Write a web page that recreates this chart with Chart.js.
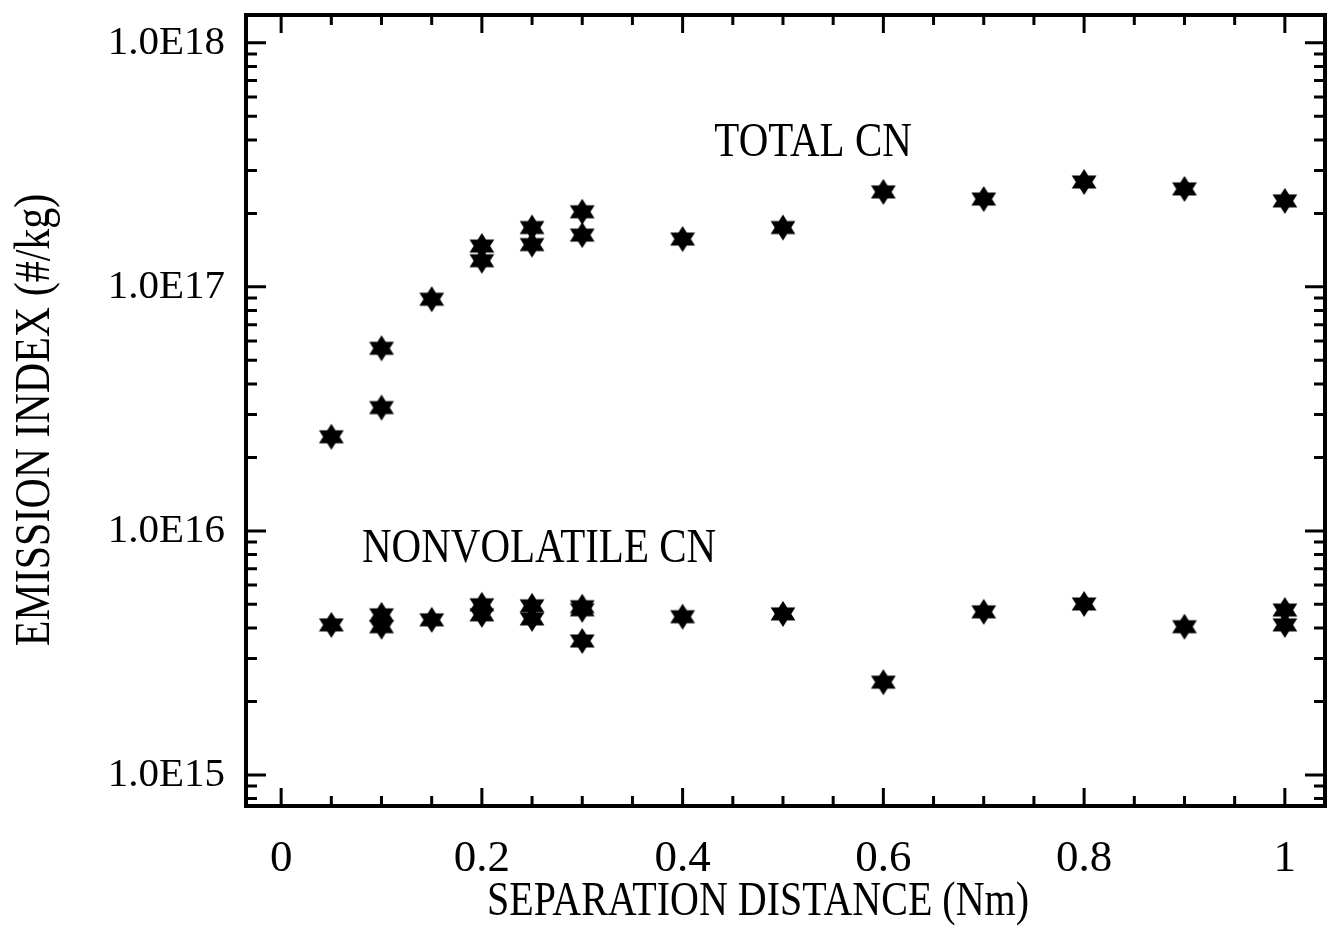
<!DOCTYPE html>
<html>
<head>
<meta charset="utf-8">
<title>Emission index vs separation distance</title>
<script src="https://cdn.jsdelivr.net/npm/chart.js@4/dist/chart.umd.min.js"></script>
<style>
  html, body { margin: 0; padding: 0; background: #fff; }
  #wrap { width: 1328px; height: 930px; }
</style>
</head>
<body>
<div id="wrap"><canvas id="emissionChart" width="1328" height="930"></canvas></div>
<script>
// Total CN
var totalX = [0.05, 0.1, 0.1, 0.15, 0.2, 0.2, 0.25, 0.25, 0.3, 0.3, 0.4, 0.5, 0.6, 0.7, 0.8, 0.9, 1.0];
var totalY = [2.43e16, 5.6e16, 3.2e16, 8.9e16, 1.47e17, 1.28e17, 1.75e17, 1.49e17, 2.03e17, 1.63e17,
              1.57e17, 1.75e17, 2.45e17, 2.29e17, 2.69e17, 2.52e17, 2.25e17];

// Nonvolatile CN
var nonvolX = [0.05, 0.1, 0.1, 0.15, 0.2, 0.2, 0.25, 0.25, 0.3, 0.3, 0.3, 0.4, 0.5, 0.6, 0.7, 0.8, 0.9, 1.0, 1.0];
var nonvolY = [4.12e15, 4.53e15, 4.05e15, 4.32e15, 4.98e15, 4.53e15, 4.93e15, 4.36e15, 4.89e15, 4.75e15, 3.54e15,
               4.45e15, 4.57e15, 2.40e15, 4.66e15, 5.02e15, 4.05e15, 4.74e15, 4.12e15];

var xTickValues = [0, 0.2, 0.4, 0.6, 0.8, 1];
var xTickLabels = ['0', '0.2', '0.4', '0.6', '0.8', '1'];
var yTickValues = [1e15, 1e16, 1e17, 1e18];
var yTickLabels = ['1.0E15', '1.0E16', '1.0E17', '1.0E18'];

var serif = '"Liberation Serif", "Times New Roman", serif';

// six pointed star used as the marker (a little wider than a true hexagram, like the scan)
function makeStar(r) {
    var c = document.createElement('canvas');
    var s = Math.ceil(r * 2 + 4);
    c.width = s; c.height = s;
    var g = c.getContext('2d');
    var inner = r / Math.sqrt(3);
    g.beginPath();
    for (var i = 0; i < 12; i++) {
        var ang = -Math.PI / 2 + i * Math.PI / 6;
        var rr = (i % 2 === 0) ? r : inner;
        var px = s / 2 + 1.1 * rr * Math.cos(ang), py = s / 2 + rr * Math.sin(ang);
        if (i === 0) g.moveTo(px, py); else g.lineTo(px, py);
    }
    g.closePath();
    g.fillStyle = '#000';
    g.fill();
    return c;
}

// text a bit taller than the font, like the scanned original
function tallText(ctx, txt, cx, cy, rot) {
    ctx.save();
    ctx.translate(cx, cy);
    if (rot) ctx.rotate(rot);
    ctx.scale(1, 1.2);
    ctx.fillText(txt, 0, 0);
    ctx.restore();
}

// frame, inward ticks on all four sides, labels inside the plot and axis titles
var framePlugin = {
    id: 'framePlugin',
    afterDraw: function (chart) {
        var ctx = chart.ctx, a = chart.chartArea, x = chart.scales.x, y = chart.scales.y;
        ctx.save();
        ctx.strokeStyle = '#000';
        ctx.lineWidth = 3;
        ctx.beginPath();
        for (var i = 0; i <= 20; i++) {
            var v = i * 0.05;
            var px = x.getPixelForValue(v);
            var len = (i % 4 === 0) ? 18 : 10;
            ctx.moveTo(px, a.bottom); ctx.lineTo(px, a.bottom - len);
            ctx.moveTo(px, a.top); ctx.lineTo(px, a.top + len);
        }
        for (var d = 14; d <= 18; d++) {
            for (var k = 1; k <= 9; k++) {
                var val = k * Math.pow(10, d);
                if (val < y.min || val > y.max) continue;
                var py = y.getPixelForValue(val);
                var l = (k === 1) ? 20 : 11;
                ctx.moveTo(a.left, py); ctx.lineTo(a.left + l, py);
                ctx.moveTo(a.right, py); ctx.lineTo(a.right - l, py);
            }
        }
        ctx.stroke();
        ctx.lineWidth = 4;
        ctx.strokeRect(a.left, a.top, a.right - a.left, a.bottom - a.top);

        ctx.fillStyle = '#000';
        ctx.font = '41px ' + serif;
        ctx.textAlign = 'center';
        ctx.textBaseline = 'middle';
        tallText(ctx, 'TOTAL CN', x.getPixelForValue(0.53), y.getPixelForValue(3.9e17));
        tallText(ctx, 'NONVOLATILE CN', x.getPixelForValue(0.257), y.getPixelForValue(8.4e15));

        ctx.font = '40px ' + serif;
        tallText(ctx, 'SEPARATION DISTANCE (Nm)', 758, 902);
        ctx.font = '42px ' + serif;
        tallText(ctx, 'EMISSION INDEX (#/kg)', 36, 420, -Math.PI / 2);
        ctx.restore();
    }
};

document.addEventListener('DOMContentLoaded', function () {
    var star = makeStar(13);
    var ctxEm = document.getElementById('emissionChart').getContext('2d');
    var emissionChart = new Chart(ctxEm, {
        type: 'scatter',
        data: {
            datasets: [{
                label: 'TOTAL CN',
                data: totalX.map(function (v, i) { return { x: v, y: totalY[i] }; }),
                pointStyle: star,
                pointRadius: 13,
                backgroundColor: '#000',
                borderColor: '#000'
            }, {
                label: 'NONVOLATILE CN',
                data: nonvolX.map(function (v, i) { return { x: v, y: nonvolY[i] }; }),
                pointStyle: star,
                pointRadius: 13,
                backgroundColor: '#000',
                borderColor: '#000'
            }]
        },
        options: {
            responsive: false,
            devicePixelRatio: 1,
            animation: false,
            layout: { autoPadding: false, padding: { top: 15, right: 3, left: 0, bottom: 0 } },
            plugins: {
                legend: { display: false },
                tooltip: { enabled: false }
            },
            scales: {
                x: {
                    type: 'linear',
                    min: -0.035,
                    max: 1.04,
                    grid: { display: false },
                    border: { display: false },
                    afterFit: function (s) {
                        s.height = 124;
                        s.paddingLeft = 0; s.paddingRight = 0;
                    },
                    afterBuildTicks: function (s) {
                        s.ticks = xTickValues.map(function (v) { return { value: v }; });
                    },
                    ticks: {
                        padding: 18,
                        color: '#000',
                        font: { family: serif, size: 45 },
                        maxRotation: 0,
                        autoSkip: false,
                        callback: function (v) { return xTickLabels[xTickValues.indexOf(v)]; }
                    }
                },
                y: {
                    type: 'logarithmic',
                    min: 7.46e14,
                    max: 1.30e18,
                    grid: { display: false },
                    border: { display: false },
                    afterFit: function (s) {
                        s.width = 246;
                        s.paddingTop = 0; s.paddingBottom = 0;
                    },
                    afterBuildTicks: function (s) {
                        s.ticks = yTickValues.map(function (v) { return { value: v }; });
                    },
                    ticks: {
                        padding: 13,
                        color: '#000',
                        font: { family: serif, size: 41 },
                        autoSkip: false,
                        callback: function (v) { return yTickLabels[yTickValues.indexOf(v)]; }
                    }
                }
            }
        },
        plugins: [framePlugin]
    });
});
</script>
</body>
</html>
